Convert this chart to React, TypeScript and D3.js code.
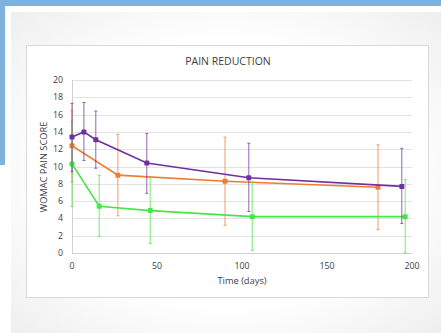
import React from 'react';
import * as d3 from 'd3';

// time (days) and WOMAC pain score per group, with error bar ends
const purpleX = [0, 7, 14, 44, 104, 194];
const purpleY = [13.4, 14.0, 13.1, 10.4, 8.7, 7.7];
const purpleHi = [17.3, 17.4, 16.4, 13.8, 12.7, 12.1];
const purpleLo = [9.4, 10.7, 9.8, 6.9, 4.8, 3.4];

const orangeX = [0, 27, 90, 180];
const orangeY = [12.4, 9.0, 8.3, 7.6];
const orangeHi = [16.5, 13.7, 13.4, 12.5];
const orangeLo = [8.2, 4.3, 3.2, 2.7];

const greenX = [0, 16, 46, 106, 196];
const greenY = [10.3, 5.4, 4.9, 4.2, 4.2];
const greenHi = [15.2, 9.0, 8.7, 8.2, 8.5];
const greenLo = [5.4, 1.9, 1.1, 0.3, 0];

const xTicks = [0, 50, 100, 150, 200];
const yTicks = [0, 2, 4, 6, 8, 10, 12, 14, 16, 18, 20];

const series = [
  { name: 'orange', color: '#ed7d31', xs: orangeX, ys: orangeY, hi: orangeHi, lo: orangeLo },
  { name: 'green', color: '#45e645', xs: greenX, ys: greenY, hi: greenHi, lo: greenLo },
  { name: 'purple', color: '#7030a0', xs: purpleX, ys: purpleY, hi: purpleHi, lo: purpleLo },
];

const W = 441;
const H = 333;
const font = '"Open Sans", "Liberation Sans", sans-serif';

export default function App() {
  const x = d3.scaleLinear().domain([0, 200]).range([72, 412]);
  const y = d3.scaleLinear().domain([0, 20]).range([253, 80]);
  const line = d3.line<[number, number]>()
    .x(d => x(d[0]))
    .y(d => y(d[1]));

  return (
    <div style={{ position: 'fixed', left: 0, top: 0, width: W, height: H, background: '#fff' }}>
      <svg width={W} height={H} style={{ display: 'block' }}>
        <defs>
          <radialGradient id="card" cx="0.5" cy="0.5" r="0.75">
            <stop offset="0.55" stopColor="#ffffff" />
            <stop offset="1" stopColor="#ececec" />
          </radialGradient>
        </defs>
        {/* blue frame behind the card */}
        <rect x={0} y={0} width={W} height={6} fill="#7eb2dc" />
        <rect x={0} y={0} width={5} height={165} fill="#7eb2dc" />
        <rect x={11} y={12} width={W - 11} height={H - 12} fill="url(#card)" />

        {/* chart box */}
        <rect x={26.5} y={45.5} width={402} height={252} fill="#fff" stroke="#d9d9d9" strokeWidth={1} />

        <text x={228} y={64.5} textAnchor="middle" fontFamily={font} fontSize={10.5} fill="#404040">PAIN REDUCTION</text>

        {yTicks.map(t => (
          <g key={t}>
            <line x1={72} x2={412} y1={Math.round(y(t)) + 0.5} y2={Math.round(y(t)) + 0.5}
              stroke={t === 0 ? '#d0d0d0' : '#e3e3e3'} strokeWidth={1} />
            <text x={63} y={y(t) + 3} textAnchor="end" fontFamily={font} fontSize={8.8} fill="#404040">{t}</text>
          </g>
        ))}
        <line x1={72.5} x2={72.5} y1={80} y2={253} stroke="#d0d0d0" />
        {xTicks.map(t => (
          <text key={t} x={x(t)} y={269} textAnchor="middle" fontFamily={font} fontSize={8.8} fill="#404040">{t}</text>
        ))}
        <text x={242} y={284} textAnchor="middle" fontFamily={font} fontSize={9.3} fill="#404040">Time (days)</text>
        <text transform={`translate(47,167) rotate(-90)`} textAnchor="middle" fontFamily={font} fontSize={9.3} fill="#404040">WOMAC PAIN SCORE</text>

        {series.map(s => (
          <g key={s.name}>
            {s.xs.map((v, i) => (
              <g key={i} stroke={s.color} strokeOpacity={0.75} strokeWidth={1}>
                <line x1={x(v)} x2={x(v)} y1={y(s.hi[i])} y2={y(s.lo[i])} />
                <line x1={x(v) - 1.5} x2={x(v) + 1.5} y1={y(s.hi[i])} y2={y(s.hi[i])} />
                <line x1={x(v) - 1.5} x2={x(v) + 1.5} y1={y(s.lo[i])} y2={y(s.lo[i])} />
              </g>
            ))}
            <path d={line(s.xs.map((v, i) => [v, s.ys[i]] as [number, number])) || ''}
              fill="none" stroke={s.color} strokeWidth={1.6} />
            {s.xs.map((v, i) => (
              <rect key={i} x={x(v) - 2.5} y={y(s.ys[i]) - 2.5} width={5} height={5} rx={1} fill={s.color} />
            ))}
          </g>
        ))}
      </svg>
    </div>
  );
}
